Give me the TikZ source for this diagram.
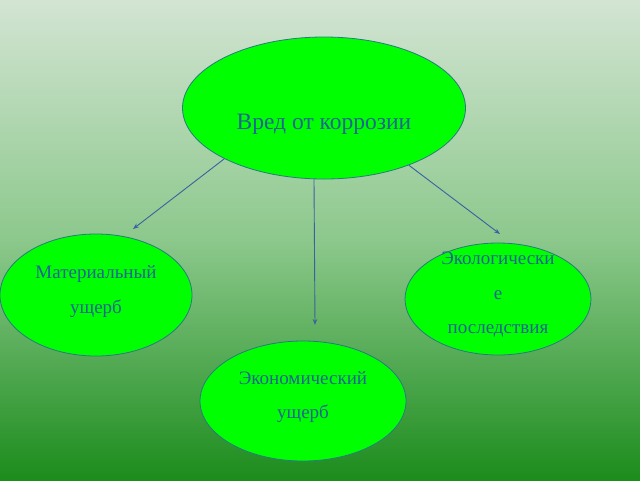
\documentclass[tikz,border=0pt]{standalone}
\usepackage{fontspec}
\setmainfont{Liberation Serif}
\usetikzlibrary{shapes.geometric,arrows.meta}
\definecolor{bgtop}{HTML}{D3E4D3}
\definecolor{bgmid}{HTML}{8CC88C}
\definecolor{bgbot}{HTML}{1C8C1C}
\definecolor{ellfill}{HTML}{00FF00}
\definecolor{elldraw}{HTML}{2A7A80}
\definecolor{txtcol}{HTML}{1F6591}
\definecolor{arrcol}{HTML}{3A62A0}
\tikzset{
  ell/.style={ellipse, fill=ellfill, draw=elldraw, line width=0.8pt, inner sep=0pt},
  txt/.style={text=txtcol, align=center, inner sep=0pt},
  arr/.style={draw=arrcol, line width=0.9pt, -{Stealth[length=6pt,width=4.5pt]}}
}
\begin{document}
\begin{tikzpicture}[x=1pt,y=-1pt]
\useasboundingbox (0,0) rectangle (640,480);
\shade[top color=bgtop, bottom color=bgbot, middle color=bgmid] (0,0) rectangle (640,480);

\node[ell, minimum width=283pt, minimum height=142pt] (top) at (324,108) {};
\node[txt, font=\fontsize{23.5}{28}\selectfont] (topT) at (324,124) {Вред от коррозии};

\node[ell, minimum width=192pt, minimum height=122pt] (mat) at (96,295) {};
\node[txt, font=\fontsize{19}{35}\selectfont] (matT) at (96,292) {Материальный\\ущерб};

\node[ell, minimum width=186pt, minimum height=112pt] (eco) at (498,299) {};
\node[txt, font=\fontsize{19}{34.5}\selectfont] (ecoT) at (498,295) {Экологически\\е\\последствия};

\node[ell, minimum width=206pt, minimum height=120pt] (ecn) at (303,401) {};
\node[txt, font=\fontsize{19}{34}\selectfont] (ecnT) at (303,397) {Экономический\\ущерб};

\coordinate (a1) at (133,229);
\coordinate (a2) at (315,325);
\coordinate (a3) at (500,234);
\draw[arr] (top.207.5) -- (a1);
\draw[arr] (top.262.8) -- (a2);
\draw[arr] (top.326.5) -- (a3);
\end{tikzpicture}
\end{document}
